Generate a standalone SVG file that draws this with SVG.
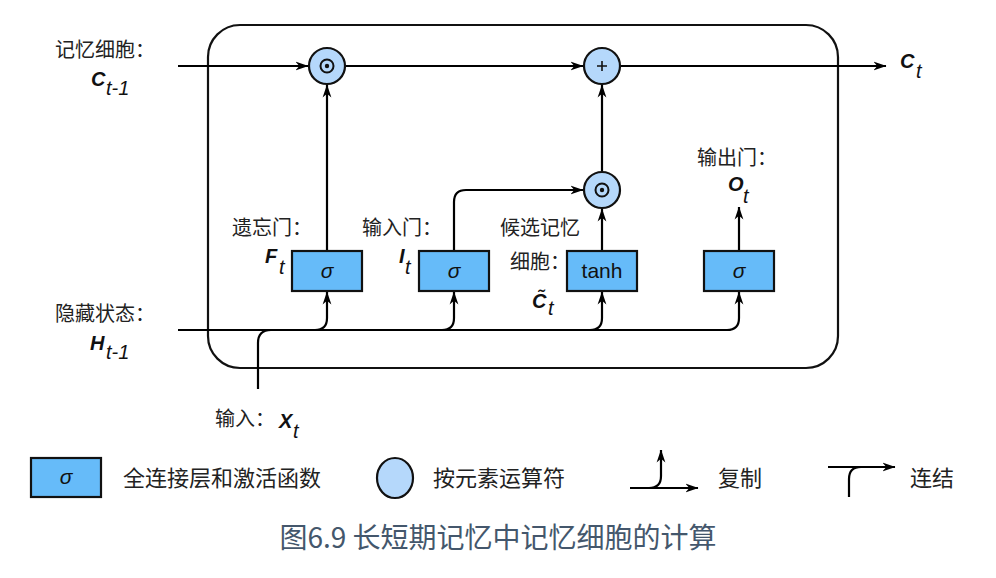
<svg xmlns="http://www.w3.org/2000/svg" width="996" height="578" viewBox="0 0 996 578">
<style>
.ln{fill:none;stroke:#000;stroke-width:2.2}
.arr{marker-end:url(#ah)}
.box{fill:#66bbf9;stroke:#111;stroke-width:2.2}
.op{fill:#b5d8fb;stroke:#111;stroke-width:2.2}
.cn{font-family:"Noto Sans CJK SC","Noto Sans",sans-serif;font-size:20px;fill:#222}
.lg{font-family:"Noto Sans CJK SC","Noto Sans",sans-serif;font-size:22px;fill:#222}
.m{font-family:"Liberation Sans",Arial,sans-serif;font-weight:bold;font-style:italic;font-size:20px;fill:#111}
.s{font-family:"Liberation Sans",Arial,sans-serif;font-style:italic;font-size:20px;fill:#111}
.bt{font-family:"Liberation Sans",Arial,sans-serif;font-size:21px;fill:#111;text-anchor:middle}
</style>
<defs>
<marker id="ah" viewBox="0 0 13 10" refX="12.5" refY="5" markerWidth="13" markerHeight="10" markerUnits="userSpaceOnUse" orient="auto">
<path d="M0,0.6 L13,5 L0,9.4 L3.8,5 z" fill="#000"/>
</marker>
</defs>
<rect x="0" y="0" width="996" height="578" fill="#fff"/>

<rect id="cell" x="208" y="25" width="630" height="343" rx="32" ry="32" fill="none" stroke="#111" stroke-width="2.2"/>

<g id="connectors">
<path class="ln arr" d="M178,66 L308,66"/>
<path class="ln arr" d="M346,66 L583,66"/>
<path class="ln arr" d="M621,66 L886,66"/>
<path class="ln arr" d="M327,251 L327,85"/>
<path class="ln arr" d="M454,251 L454,202 Q454,190 466,190 L583,190"/>
<path class="ln arr" d="M602,251 L602,209"/>
<path class="ln arr" d="M602,171 L602,85"/>
<path class="ln arr" d="M739,251 L739,207"/>
<path class="ln" d="M178,330 L727,330"/>
<path class="ln" d="M258,389 L258,343 Q258,330 271,330"/>
<path class="ln arr" d="M315,330 Q327,330 327,318 L327,292"/>
<path class="ln arr" d="M442,330 Q454,330 454,318 L454,292"/>
<path class="ln arr" d="M590,330 Q602,330 602,318 L602,292"/>
<path class="ln arr" d="M727,330 Q739,330 739,318 L739,292"/>
</g>

<g id="mul1">
<circle class="op" cx="327" cy="66" r="18"/>
<circle cx="327" cy="66" r="6.5" fill="none" stroke="#111" stroke-width="2"/>
<circle cx="327" cy="66" r="2.2" fill="#111"/>
</g>
<g id="add">
<circle class="op" cx="602" cy="66" r="18"/>
<path d="M597,66 L607,66 M602,61 L602,71" stroke="#111" stroke-width="1.6"/>
</g>
<g id="mul2">
<circle class="op" cx="602" cy="190" r="18"/>
<circle cx="602" cy="190" r="6.5" fill="none" stroke="#111" stroke-width="2"/>
<circle cx="602" cy="190" r="2.2" fill="#111"/>
</g>

<g id="forget">
<rect class="box" x="292" y="251" width="70" height="40"/>
<text class="bt" x="327" y="278" font-style="italic">σ</text>
</g>
<g id="inputgate">
<rect class="box" x="419" y="251" width="70" height="40"/>
<text class="bt" x="454" y="278" font-style="italic">σ</text>
</g>
<g id="candidate">
<rect class="box" x="567" y="251" width="70" height="40"/>
<text class="bt" x="602" y="278">tanh</text>
</g>
<g id="output">
<rect class="box" x="704" y="251" width="70" height="40"/>
<text class="bt" x="739" y="278" font-style="italic">σ</text>
</g>

<g id="labels">
<text class="cn" x="55" y="57">记忆细胞：</text>
<text class="m" x="91" y="86">C</text><text class="s" x="106" y="95">t-1</text>
<text class="cn" x="55" y="321">隐藏状态：</text>
<text class="m" x="90" y="350">H</text><text class="s" x="106" y="359">t-1</text>
<text class="cn" x="215" y="426">输入：</text>
<text class="m" x="279" y="428">X</text><text class="s" x="293" y="438">t</text>
<text class="cn" x="232" y="235">遗忘门：</text>
<text class="m" x="265" y="263">F</text><text class="s" x="279" y="274">t</text>
<text class="cn" x="362" y="235">输入门：</text>
<text class="m" x="399" y="263">I</text><text class="s" x="405" y="274">t</text>
<text class="cn" x="500" y="235">候选记忆</text>
<text class="cn" x="510" y="269">细胞：</text>
<text class="m" x="532" y="308">C&#x303;</text><text class="s" x="548" y="315">t</text>
<text class="cn" x="697" y="165">输出门：</text>
<text class="m" x="728" y="191">O</text><text class="s" x="743" y="203">t</text>
<text class="m" x="900" y="68" font-size="21">C</text><text class="s" x="916" y="78">t</text>
</g>

<g id="legend">
<rect class="box" x="31" y="458" width="70" height="39"/>
<text class="bt" x="66" y="484" font-style="italic">σ</text>
<text class="lg" x="123" y="486">全连接层和激活函数</text>
<ellipse class="op" cx="395" cy="478" rx="18" ry="20"/>
<text class="lg" x="433" y="486">按元素运算符</text>
<path class="ln arr" d="M630,488 L698,488"/>
<path class="ln arr" d="M649,488 Q661,488 661,476 L661,450"/>
<text class="lg" x="718" y="486">复制</text>
<path class="ln arr" d="M828,467 L895,467"/>
<path class="ln" d="M849,497 L849,479 Q849,467 861,467"/>
<text class="lg" x="910" y="486">连结</text>
</g>

<text id="caption" x="498" y="548" text-anchor="middle" font-family="Noto Sans CJK SC, Noto Sans, sans-serif" font-size="28" fill="#44576c">图6.9 长短期记忆中记忆细胞的计算</text>
</svg>
